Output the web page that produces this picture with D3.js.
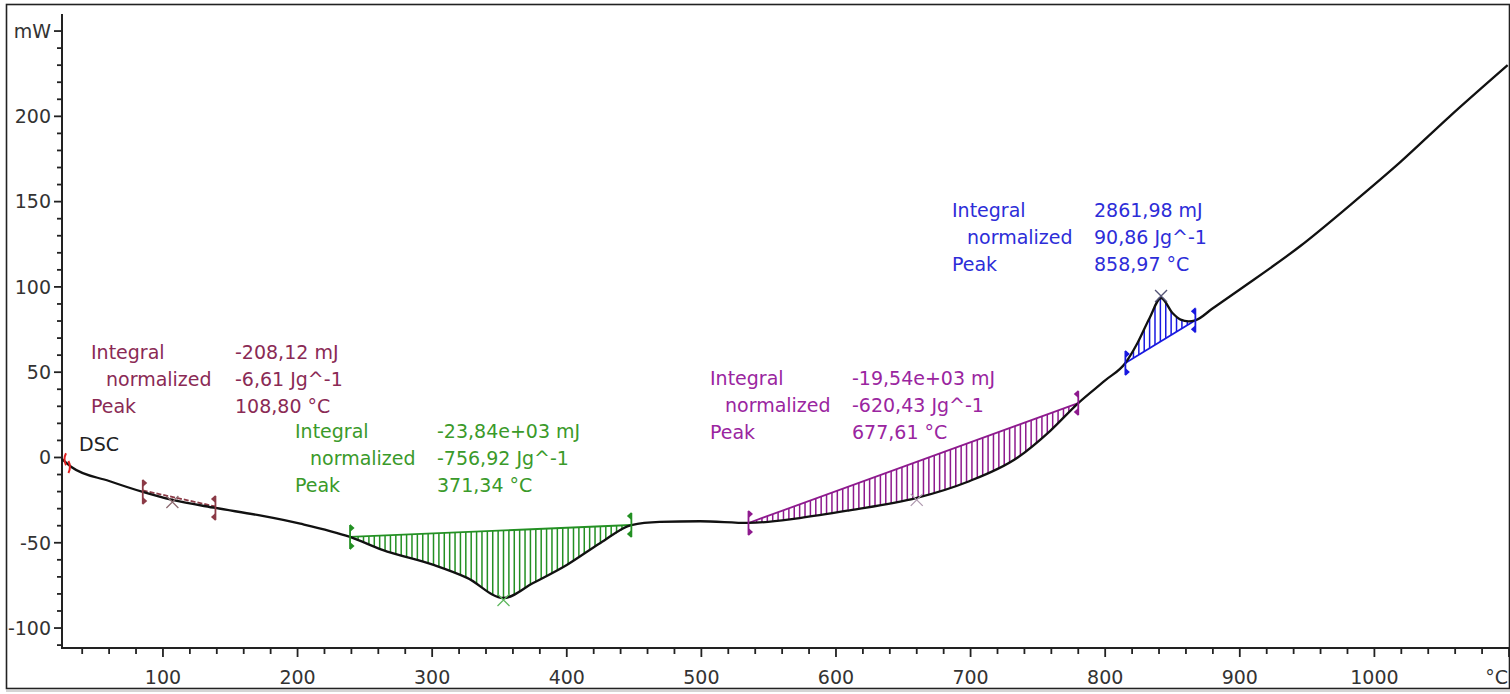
<!DOCTYPE html>
<html>
<head>
<meta charset="utf-8">
<script src="https://cdn.jsdelivr.net/npm/d3@7"></script>
<style>
  body { margin: 0; background: #fff; }
  svg { display: block; }
  text { font-family: "DejaVu Sans", Verdana, sans-serif; }
</style>
</head>
<body>
<svg id="chart" width="1510" height="694"></svg>
<script>
// DSC heating curve: temperature (°C) and heat flow (mW)
const temps = [25, 32, 60, 85, 107, 139, 172, 202, 239, 263, 301, 326, 353, 375, 400, 425, 448,
  469, 499, 535, 573, 610, 660, 697, 735, 759, 780, 800, 815, 824, 833, 841.5, 850, 856, 862, 867,
  880, 900, 945, 982, 1019, 1056, 1099];
const dscValues = [-1, -5.6, -13.8, -20.2, -24.9, -29.6, -34, -38.8, -46.6, -54.2, -63, -70.6, -82.4,
  -73.6, -63, -50.1, -39.6, -37.8, -37.4, -38.4, -35.5, -31, -23.7, -14.5, 0, 15.5, 31.9,
  45.2, 55.4, 67.1, 81.8, 93.5, 84.7, 80.8, 79.8, 80.4, 87.5, 98.5, 124, 148, 173, 200, 230];

// Axis ticks
const xMajorTicks = [100, 200, 300, 400, 500, 600, 700, 800, 900, 1000];
const yMajorTicks = [-100, -50, 0, 50, 100, 150, 200];
const yUnitTick = 250;    // position of the "mW" unit label

// Integrated peaks (limits and marked peak on the temperature axis)
const regionStart = [85, 239, 535, 815];
const regionEnd = [139, 448, 780, 867];
const peakMarkTemps = [107, 353, 660, 841.5];
const integralText = ["-208,12 mJ", "-23,84e+03 mJ", "-19,54e+03 mJ", "2861,98 mJ"];
const normalizedText = ["-6,61 Jg^-1", "-756,92 Jg^-1", "-620,43 Jg^-1", "90,86 Jg^-1"];
const peakText = ["108,80 °C", "371,34 °C", "677,61 °C", "858,97 °C"];

// Styling / layout of the peak evaluations
const hatchColors = ["#8b3a46", "#239023", "#8e1a8e", "#1818e0"];
const textColors = ["#8a2a55", "#3a9a2a", "#9a25a0", "#2d2dd8"];
const crossColors = ["#8c6a70", "#5fb85f", "#b09ab0", "#555577"];
const labelPos = [[91, 352], [295, 431], [710, 378], [952, 210]];
const valueDx = [144, 142, 142, 142];

const svg = d3.select("#chart");
const W = 1510, H = 694;

const x = d3.scaleLinear().domain([25, 1100]).range([62, 1509]);
const y = d3.scaleLinear().domain([-111.7, 260]).range([648, 14]);

// frame
svg.append("rect").attr("x", 6.5).attr("y", 4.5).attr("width", 1503).attr("height", 684)
  .attr("fill", "none").attr("stroke", "#222").attr("stroke-width", 1.6);
svg.append("line").attr("x1", 6).attr("x2", W).attr("y1", 691).attr("y2", 691)
  .attr("stroke", "#aaa").attr("stroke-width", 1);

// axes
const axisColor = "#222";
const labelColor = "#333";
const xMinor = d3.range(40, 1101, 20);
const yMinor = d3.range(-110, 251, 10);
const x0 = y.range()[0];

const gx = svg.append("g").attr("transform", `translate(0,${x0})`);
gx.append("line").attr("x1", x(25) - 1).attr("x2", W).attr("y1", 0).attr("y2", 0)
  .attr("stroke", axisColor).attr("stroke-width", 2);
gx.selectAll("line.tick").data(xMinor).join("line").attr("class", "tick")
  .attr("x1", d => x(d)).attr("x2", d => x(d)).attr("y1", 0)
  .attr("y2", d => d % 100 === 0 ? 9 : 6)
  .attr("stroke", axisColor).attr("stroke-width", 1.8);
gx.selectAll("text.lab").data(xMajorTicks).join("text").attr("class", "lab")
  .attr("x", d => x(d)).attr("y", 36).attr("text-anchor", "middle")
  .attr("font-size", 19).attr("fill", labelColor).text(d => d);
gx.append("text").attr("x", 1508).attr("y", 36).attr("text-anchor", "end")
  .attr("font-size", 19).attr("fill", labelColor).text("°C");

const gy = svg.append("g").attr("transform", `translate(${x(25)},0)`);
gy.append("line").attr("x1", 0).attr("x2", 0).attr("y1", y(260)).attr("y2", x0 + 1)
  .attr("stroke", axisColor).attr("stroke-width", 2);
gy.selectAll("line.tick").data(yMinor).join("line").attr("class", "tick")
  .attr("y1", d => y(d)).attr("y2", d => y(d)).attr("x1", 0)
  .attr("x2", d => d % 50 === 0 ? -8 : -5)
  .attr("stroke", axisColor).attr("stroke-width", 1.8);
gy.selectAll("text.lab").data(yMajorTicks).join("text").attr("class", "lab")
  .attr("x", -11).attr("y", d => y(d)).attr("dy", "0.36em").attr("text-anchor", "end")
  .attr("font-size", 19).attr("fill", labelColor).text(d => d);
gy.append("text").attr("x", -11).attr("y", y(yUnitTick)).attr("dy", "0.36em")
  .attr("text-anchor", "end").attr("font-size", 19).attr("fill", labelColor).text("mW");

// curve helpers
const pts = temps.map((t, i) => [t, dscValues[i]]);
const lineGen = d3.line().x(d => x(d[0])).y(d => y(d[1])).curve(d3.curveMonotoneX);
const valueAt = t => dscValues[temps.indexOf(t)];
const interp = t => {
  const i = d3.bisectLeft(temps, t);
  if (temps[i] === t) return dscValues[i];
  const f = (t - temps[i - 1]) / (temps[i] - temps[i - 1]);
  return dscValues[i - 1] + f * (dscValues[i] - dscValues[i - 1]);
};

// hatched peak areas
const defs = svg.append("defs");
regionStart.forEach((t0, i) => {
  const t1 = regionEnd[i];
  const sub = pts.filter(p => p[0] >= t0 && p[0] <= t1);
  defs.append("clipPath").attr("id", "clip" + i).append("path").attr("d", lineGen(sub) + "Z");
  const g = svg.append("g");
  g.append("g").attr("clip-path", `url(#clip${i})`)
    .selectAll("line").data(d3.range(t0 + 2, t1, 4)).join("line")
    .attr("x1", d => x(d)).attr("x2", d => x(d)).attr("y1", 0).attr("y2", H)
    .attr("stroke", hatchColors[i]).attr("stroke-width", 1.5);
  // baseline
  g.append("line").attr("x1", x(t0)).attr("y1", y(valueAt(t0)) - (i === 0 ? 1.5 : 0))
    .attr("x2", x(t1)).attr("y2", y(valueAt(t1)) - (i === 0 ? 1.5 : 0))
    .attr("stroke", hatchColors[i]).attr("stroke-width", 1.8)
    .attr("stroke-dasharray", i === 0 ? "5,2" : null);
});

// DSC curve
svg.append("path").datum(pts).attr("d", lineGen)
  .attr("fill", "none").attr("stroke", "#111").attr("stroke-width", 2.3);

// limit markers
function limitMarker(t, v, color, dir) {
  const cx = x(t), cy = y(v);
  const g = svg.append("g").attr("fill", color).attr("stroke", color);
  g.append("line").attr("x1", cx).attr("x2", cx).attr("y1", cy - 12).attr("y2", cy + 12)
    .attr("stroke-width", 1.8);
  [cy - 9, cy + 9].forEach(yy => {
    g.append("path").attr("stroke", "none")
      .attr("d", `M${cx},${yy - 4}L${cx + dir * 4.5},${yy}L${cx},${yy + 4}Z`);
  });
}
regionStart.forEach((t0, i) => {
  limitMarker(t0, valueAt(t0), hatchColors[i], 1);
  limitMarker(regionEnd[i], valueAt(regionEnd[i]), hatchColors[i], -1);
});

// start-of-curve markers
[25, 32].forEach((t, k) => {
  const cx = x(t) + (k === 0 ? 1 : 0), cy = y(valueAt(t));
  svg.append("path")
    .attr("d", `M${cx + (k === 0 ? 3 : -3)},${cy - 6}Q${cx},${cy} ${cx + (k === 0 ? 3 : -3)},${cy + 6}`)
    .attr("fill", "none").attr("stroke", "#e02020").attr("stroke-width", 2);
});

// peak crosses
peakMarkTemps.forEach((t, i) => {
  const cx = x(t), cy = y(interp(t)) + (i === 3 ? -2 : 2);
  svg.append("path").attr("d", `M${cx - 6},${cy - 6}L${cx + 6},${cy + 6}M${cx - 6},${cy + 6}L${cx + 6},${cy - 6}`)
    .attr("stroke", crossColors[i]).attr("stroke-width", 1.3).attr("fill", "none");
});

// evaluation texts
regionStart.forEach((t0, i) => {
  const [lx, ly] = labelPos[i];
  const g = svg.append("g").attr("fill", textColors[i]).attr("font-size", 19);
  const rows = [["Integral", integralText[i], 0], ["normalized", normalizedText[i], 15], ["Peak", peakText[i], 0]];
  rows.forEach((r, k) => {
    g.append("text").attr("x", lx + r[2]).attr("y", ly + k * 27).attr("dy", "0.36em").text(r[0]);
    g.append("text").attr("x", lx + valueDx[i]).attr("y", ly + k * 27).attr("dy", "0.36em").text(r[1]);
  });
});

svg.append("text").attr("x", 79).attr("y", 444).attr("dy", "0.36em")
  .attr("font-size", 19).attr("fill", "#222").text("DSC");
</script>
</body>
</html>
